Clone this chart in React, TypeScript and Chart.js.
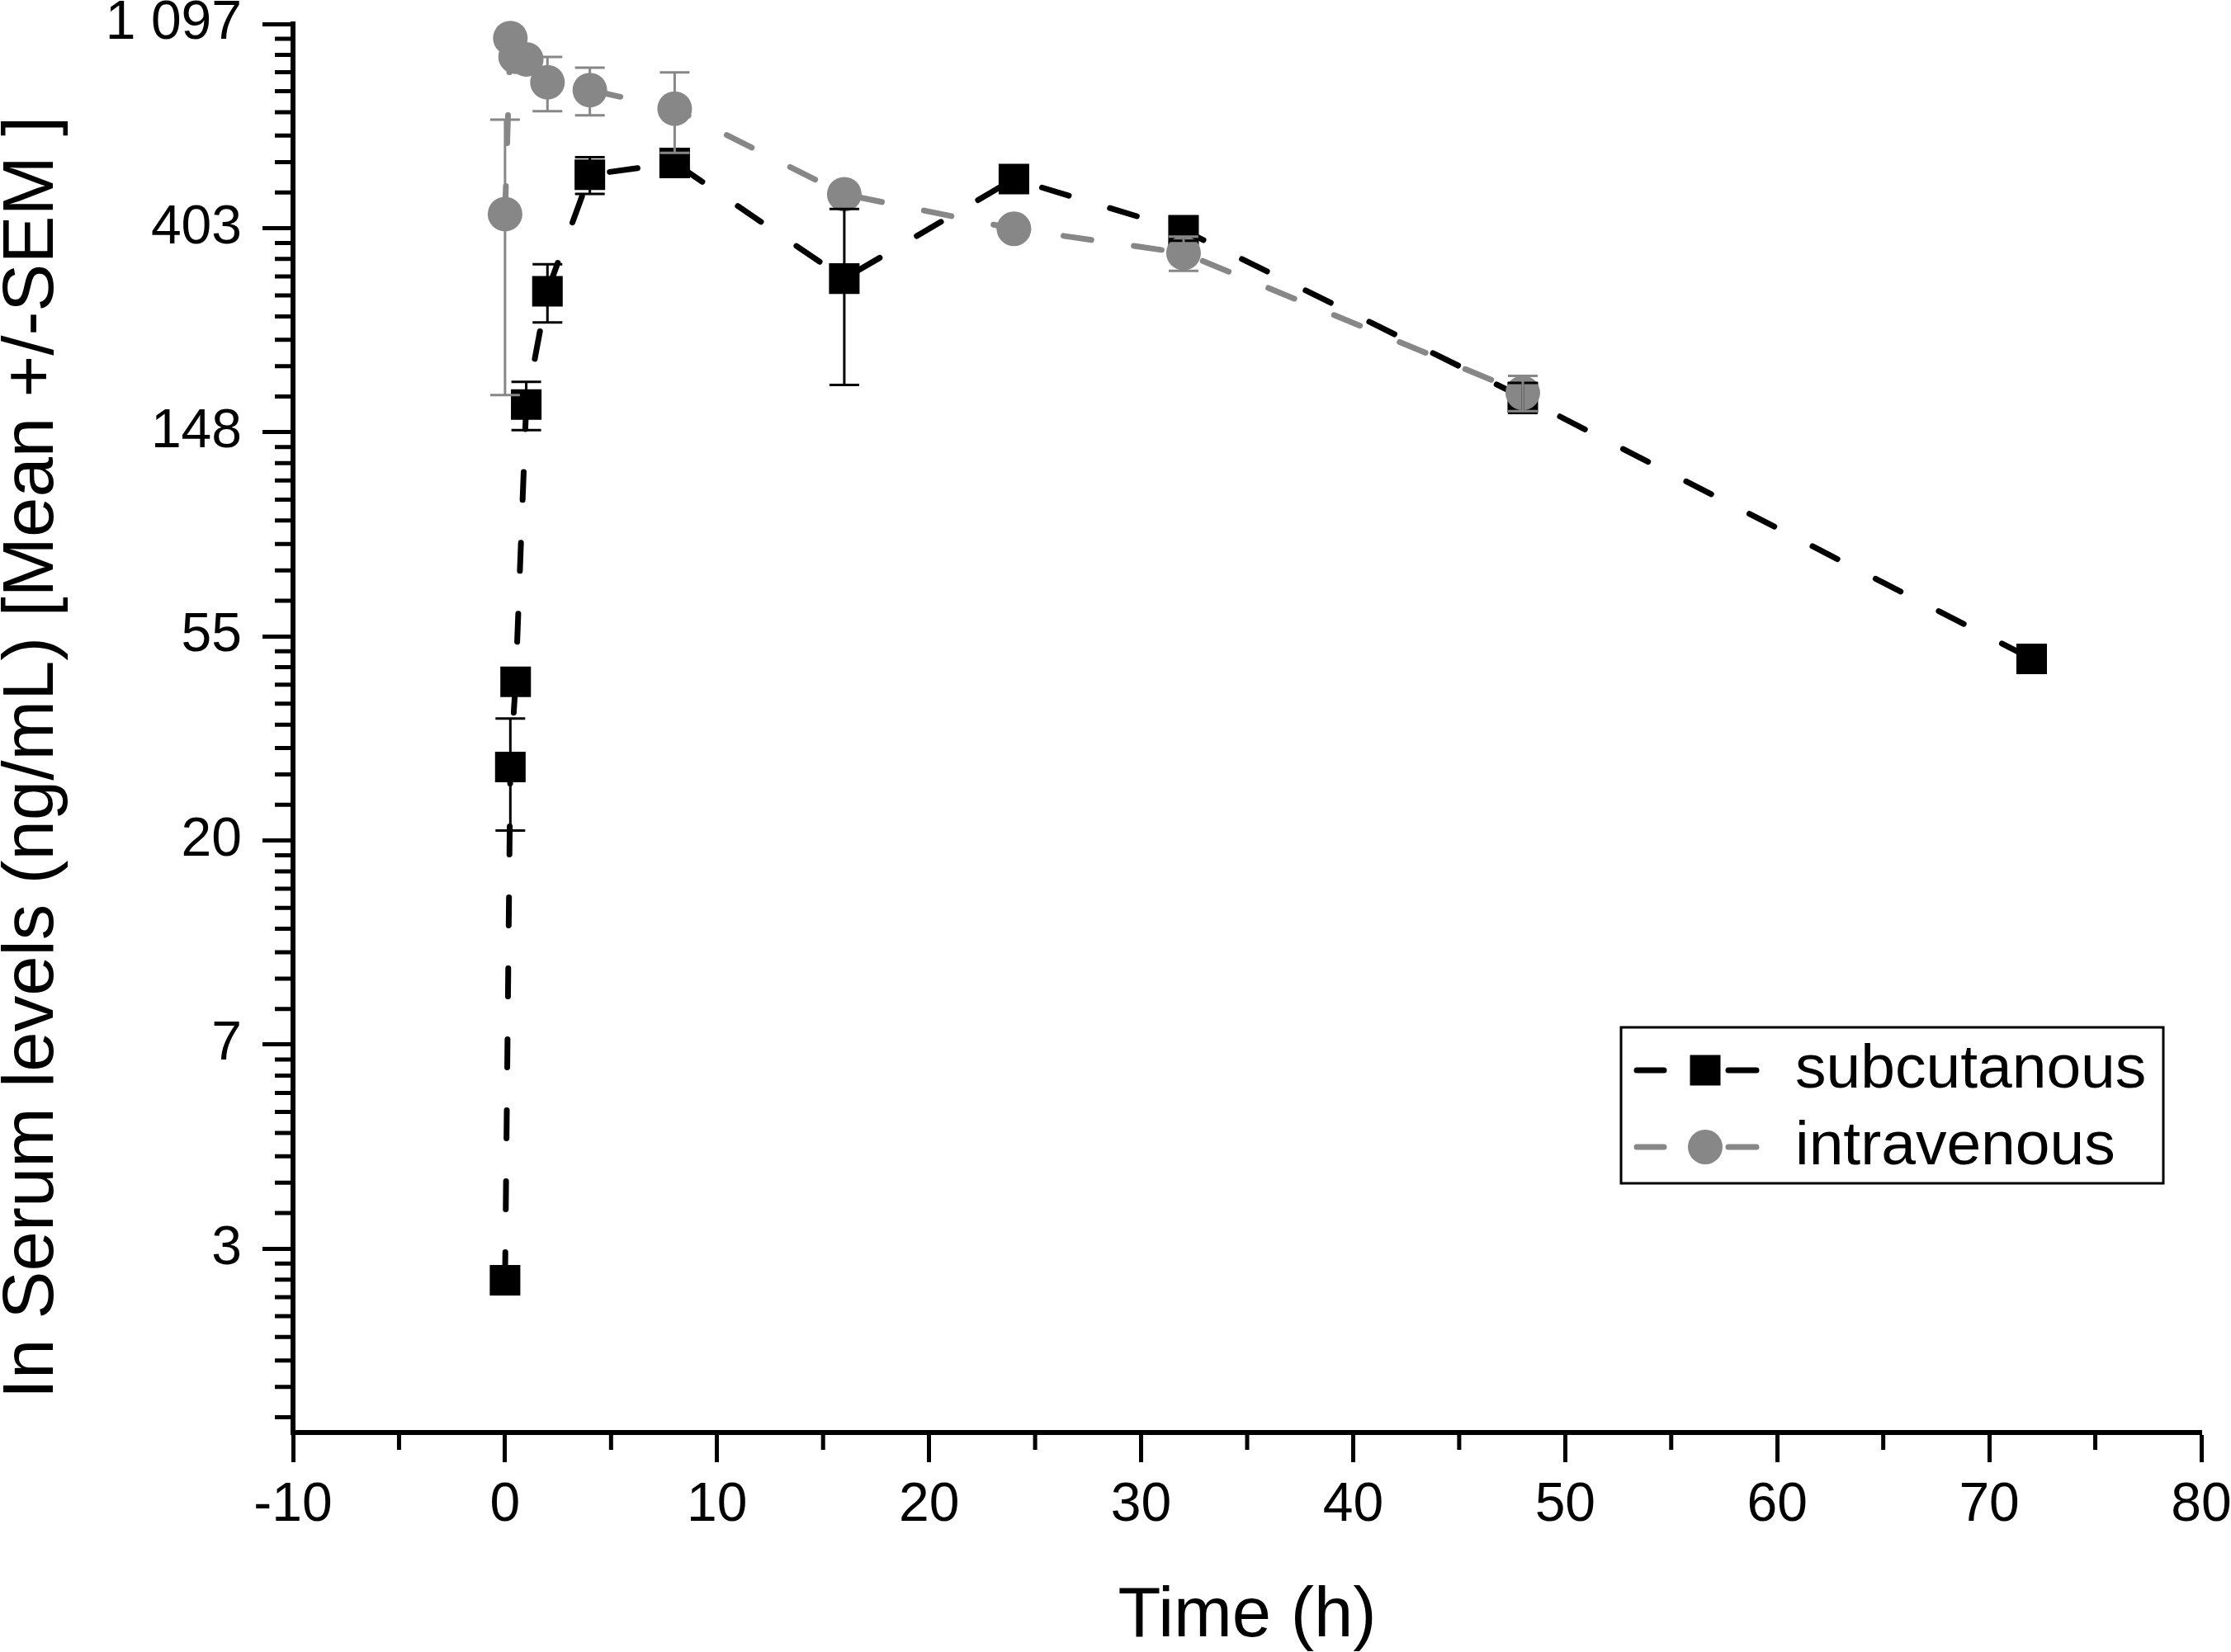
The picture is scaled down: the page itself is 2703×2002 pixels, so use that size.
import { useEffect, useRef } from "react";
import { Chart, registerables } from "chart.js";

Chart.register(...registerables);

// sampling times (h)
const times = [0, 0.25, 0.5, 1, 2, 4, 8, 16, 24, 32, 48, 72];

// serum levels, ng/mL (mean and SEM)
const subcutanousMean = [2.33, 28.8, 43.7, 170, 296, 524, 555, 315, 513, 399, 176, 48.9];
const subcutanousSem = [0, 7.7, 2, 20, 42, 47, 15, 128, 15, 20, 13, 0];
const intravenousMean = [432, 1023, 934, 922, 824, 793, 724, 476, 402, 357, 180, null];
const intravenousSem = [254, 25, 25, 25, 109, 92, 141, 15, 10, 30, 15.5, null];

const seriesNames = ["subcutanous", "intravenous"];

// y axis is ln(value): major ticks at e^1 ... e^7
const yTickValues = [1, 2, 3, 4, 5, 6, 7];
const yTickLabels = ["3", "7", "20", "55", "148", "403", "1 097"];
const xTickValues = [-10, 0, 10, 20, 30, 40, 50, 60, 70, 80];
const xTickLabels = ["-10", "0", "10", "20", "30", "40", "50", "60", "70", "80"];
const xMinorTicks = [-5, 5, 15, 25, 35, 45, 55, 65, 75];

const yTitle = "In Serum levels (ng/mL) [Mean +/-SEM ]";

const BLACK = "#000000";
const GREY = "#878787";
const FONT = "'Liberation Sans', Arial, sans-serif";

function toPoints(mean: (number | null)[]) {
  return times
    .map((t, i) => (mean[i] == null ? null : { x: t, y: Math.log(mean[i] as number) }))
    .filter((p) => p !== null) as { x: number; y: number }[];
}

const errorSets = [
  { mean: subcutanousMean, sem: subcutanousSem, color: BLACK },
  { mean: intravenousMean, sem: intravenousSem, color: GREY },
];

const errorBars = {
  id: "errorBars",
  afterDatasetsDraw(chart: Chart) {
    const { ctx } = chart;
    const x = chart.scales.x;
    const y = chart.scales.y;
    ctx.save();
    ctx.lineWidth = 3;
    errorSets.forEach((set) => {
      ctx.strokeStyle = set.color;
      times.forEach((t, i) => {
        const m = set.mean[i];
        const s = set.sem[i];
        if (m == null || !s) return;
        const px = x.getPixelForValue(t);
        const top = y.getPixelForValue(Math.log(m + s));
        const bot = y.getPixelForValue(Math.log(m - s));
        ctx.beginPath();
        ctx.moveTo(px, top);
        ctx.lineTo(px, bot);
        ctx.moveTo(px - 18, top);
        ctx.lineTo(px + 18, top);
        ctx.moveTo(px - 18, bot);
        ctx.lineTo(px + 18, bot);
        ctx.stroke();
      });
    });
    ctx.restore();
  },
};

const decorations = {
  id: "decorations",
  afterDraw(chart: Chart) {
    const { ctx, chartArea } = chart;
    const x = chart.scales.x;
    const y = chart.scales.y;
    ctx.save();

    // minor ticks
    ctx.strokeStyle = BLACK;
    ctx.lineWidth = 5;
    ctx.beginPath();
    for (let n = 0; n < 7; n++) {
      const lo = Math.exp(n);
      const hi = Math.exp(n + 1);
      for (let k = 1; k < 9; k++) {
        const v = Math.log(lo + (k * (hi - lo)) / 9);
        if (v < (y.min as number) || v > (y.max as number)) continue;
        const py = y.getPixelForValue(v);
        ctx.moveTo(chartArea.left - 22, py);
        ctx.lineTo(chartArea.left, py);
      }
    }
    xMinorTicks.forEach((v) => {
      const px = x.getPixelForValue(v);
      ctx.moveTo(px, chartArea.bottom);
      ctx.lineTo(px, chartArea.bottom + 21);
    });
    ctx.stroke();

    // y axis title
    ctx.fillStyle = BLACK;
    ctx.font = `87px ${FONT}`;
    ctx.textAlign = "center";
    ctx.textBaseline = "alphabetic";
    ctx.save();
    ctx.translate(64, 918);
    ctx.rotate(-Math.PI / 2);
    ctx.fillText(yTitle, 0, 0);
    ctx.restore();

    // legend
    const box = { left: 1964, top: 1245, right: 2621, bottom: 1434 };
    const rows = [1297, 1390];
    ctx.lineWidth = 3;
    ctx.strokeRect(box.left, box.top, box.right - box.left, box.bottom - box.top);
    ctx.lineCap = "round";
    rows.forEach((ry, i) => {
      const color = i === 0 ? BLACK : GREY;
      ctx.strokeStyle = color;
      ctx.fillStyle = color;
      ctx.lineWidth = 7;
      ctx.beginPath();
      ctx.moveTo(1983, ry);
      ctx.lineTo(2016, ry);
      ctx.moveTo(2094, ry);
      ctx.lineTo(2128, ry);
      ctx.stroke();
      if (i === 0) {
        ctx.fillRect(2066 - 18.5, ry - 18.5, 37, 37);
      } else {
        ctx.beginPath();
        ctx.arc(2066, ry, 21, 0, Math.PI * 2);
        ctx.fill();
      }
      ctx.fillStyle = BLACK;
      ctx.font = `75px ${FONT}`;
      ctx.textAlign = "left";
      ctx.textBaseline = "middle";
      ctx.fillText(seriesNames[i], 2175, ry);
    });
    ctx.restore();
  },
};

export default function App() {
  const chartRef = useRef<HTMLCanvasElement>(null);
  const chartInstance = useRef<Chart | null>(null);

  useEffect(() => {
    if (!chartRef.current) return;
    if (chartInstance.current) chartInstance.current.destroy();
    const ctx = chartRef.current.getContext("2d");
    if (!ctx) return;

    Chart.defaults.font.family = FONT;
    Chart.defaults.color = BLACK;

    chartInstance.current = new Chart(ctx, {
      type: "line",
      data: {
        datasets: [
          {
            label: seriesNames[0],
            data: toPoints(subcutanousMean),
            order: 1,
            borderColor: BLACK,
            backgroundColor: BLACK,
            borderWidth: 7,
            borderDash: [34, 52],
            borderCapStyle: "round",
            tension: 0,
            pointStyle: "rect",
            pointRadius: 26.2,
            pointHoverRadius: 26.2,
            pointBorderWidth: 0,
            pointBackgroundColor: BLACK,
            clip: false,
          },
          {
            label: seriesNames[1],
            data: toPoints(intravenousMean),
            order: 0,
            borderColor: GREY,
            backgroundColor: GREY,
            borderWidth: 7,
            borderDash: [34, 52],
            borderCapStyle: "round",
            tension: 0,
            pointStyle: "circle",
            pointRadius: 21,
            pointHoverRadius: 21,
            pointBorderWidth: 0,
            pointBackgroundColor: GREY,
            clip: false,
          },
        ],
      },
      options: {
        animation: false,
        responsive: true,
        maintainAspectRatio: false,
        events: [],
        layout: { padding: { top: 29, right: 36, bottom: 0, left: 0 } },
        plugins: {
          legend: { display: false },
          tooltip: { enabled: false },
        },
        scales: {
          x: {
            type: "linear",
            min: -10,
            max: 80,
            afterBuildTicks: (s: any) => {
              s.ticks = xTickValues.map((v) => ({ value: v }));
            },
            afterFit: (s: any) => {
              s.height = 266;
              s.paddingLeft = 0;
              s.paddingRight = 0;
            },
            grid: {
              drawOnChartArea: false,
              drawTicks: true,
              tickLength: 36,
              tickWidth: 5,
              tickColor: BLACK,
            },
            border: { display: true, width: 6, color: BLACK },
            ticks: {
              color: BLACK,
              font: { size: 66, lineHeight: 1 },
              padding: 20,
              maxRotation: 0,
              autoSkip: false,
              callback: (v: any) => xTickLabels[xTickValues.indexOf(Number(v))] ?? "",
            },
            title: {
              display: true,
              text: "Time (h)",
              color: BLACK,
              font: { size: 85, lineHeight: 1 },
              padding: { top: 0, bottom: 0 },
            },
          },
          y: {
            type: "linear",
            min: 0.1,
            max: 7,
            afterBuildTicks: (s: any) => {
              s.ticks = yTickValues.map((v) => ({ value: v }));
            },
            afterFit: (s: any) => {
              s.width = 355;
              s.paddingTop = 0;
              s.paddingBottom = 0;
            },
            grid: {
              drawOnChartArea: false,
              drawTicks: true,
              tickLength: 37,
              tickWidth: 5,
              tickColor: BLACK,
            },
            border: { display: true, width: 6, color: BLACK },
            ticks: {
              color: BLACK,
              font: { size: 66 },
              padding: 25,
              autoSkip: false,
              callback: (v: any) => yTickLabels[yTickValues.indexOf(Number(v))] ?? "",
            },
            title: { display: false },
          },
        },
      },
      plugins: [errorBars, decorations],
    });

    return () => {
      if (chartInstance.current) {
        chartInstance.current.destroy();
        chartInstance.current = null;
      }
    };
  }, []);

  return (
    <div style={{ position: "absolute", left: 0, top: 0, width: 2703, height: 2002, background: "#fff" }}>
      <canvas ref={chartRef} />
    </div>
  );
}
